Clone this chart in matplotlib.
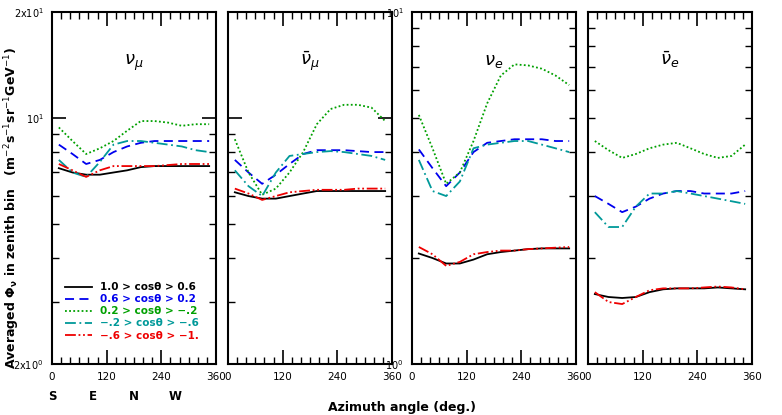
import matplotlib
matplotlib.use("Agg")
import matplotlib.pyplot as plt
from matplotlib.ticker import FixedLocator, NullFormatter

azimuth = [15, 45, 75, 105, 135, 165, 195, 225, 255, 285, 315, 345]
bin_labels = ["1.0 > cos\u03b8 > 0.6", "0.6 > cos\u03b8 > 0.2", "0.2 > cos\u03b8 > \u2212.2",
              "\u2212.2 > cos\u03b8 > \u2212.6", "\u2212.6 > cos\u03b8 > \u22121."]
panel_titles = [r"$\nu_\mu$", r"$\bar{\nu}_\mu$", r"$\nu_e$", r"$\bar{\nu}_e$"]

numu = [
    [7.2, 7.0, 6.9, 6.9, 7.0, 7.1, 7.25, 7.3, 7.3, 7.3, 7.3, 7.3],
    [8.4, 7.9, 7.4, 7.6, 8.0, 8.3, 8.5, 8.6, 8.6, 8.6, 8.6, 8.6],
    [9.4, 8.6, 7.9, 8.2, 8.6, 9.2, 9.8, 9.8, 9.7, 9.5, 9.6, 9.6],
    [7.6, 7.0, 6.8, 7.5, 8.4, 8.6, 8.6, 8.5, 8.4, 8.3, 8.1, 8.0],
    [7.4, 7.1, 6.8, 7.1, 7.3, 7.3, 7.3, 7.3, 7.35, 7.4, 7.4, 7.4],
]
numubar = [
    [6.15, 6.0, 5.9, 5.9, 6.0, 6.1, 6.2, 6.2, 6.2, 6.2, 6.2, 6.2],
    [7.6, 7.0, 6.5, 6.9, 7.4, 7.9, 8.1, 8.1, 8.1, 8.05, 8.0, 8.0],
    [8.7, 7.0, 6.05, 6.3, 7.0, 8.0, 9.6, 10.6, 10.9, 10.9, 10.7, 9.8],
    [7.1, 6.4, 6.0, 7.0, 7.8, 7.9, 8.0, 8.05, 8.0, 7.9, 7.8, 7.6],
    [6.3, 6.1, 5.85, 6.0, 6.15, 6.2, 6.25, 6.25, 6.25, 6.3, 6.3, 6.3],
]
nue = [
    [2.06, 2.0, 1.93, 1.93, 1.98, 2.05, 2.08, 2.1, 2.12, 2.13, 2.13, 2.13],
    [4.07, 3.6, 3.2, 3.5, 4.0, 4.25, 4.3, 4.35, 4.35, 4.35, 4.3, 4.3],
    [5.1, 4.1, 3.25, 3.5, 4.3, 5.5, 6.6, 7.1, 7.05, 6.9, 6.6, 6.2],
    [3.8, 3.1, 3.0, 3.3, 4.1, 4.2, 4.25, 4.3, 4.3, 4.2, 4.1, 4.0],
    [2.15, 2.05, 1.9, 1.95, 2.05, 2.08, 2.1, 2.1, 2.12, 2.13, 2.14, 2.15],
]
nuebar = [
    [1.58, 1.55, 1.54, 1.55, 1.6, 1.63, 1.64, 1.64, 1.64, 1.65, 1.64, 1.63],
    [3.0, 2.85, 2.7, 2.8, 2.95, 3.05, 3.1, 3.1, 3.05, 3.05, 3.05, 3.1],
    [4.3, 4.05, 3.85, 3.95, 4.1, 4.2, 4.25, 4.1, 3.95, 3.85, 3.9, 4.2],
    [2.7, 2.45, 2.45, 2.8, 3.05, 3.05, 3.1, 3.05, 3.0, 2.95, 2.9, 2.85],
    [1.6, 1.5, 1.48, 1.55, 1.62, 1.64, 1.64, 1.64, 1.65, 1.66, 1.65, 1.63],
]
panels = [numu, numubar, nue, nuebar]

colors = ["black", "#0000ee", "#00a000", "#009999", "#ee0000"]
styles = ["-", (0, (5, 3)), (0, (1, 1.3)), (0, (6, 2, 1, 2)), (0, (6, 1.5, 1, 1.5, 1, 1.5))]

fig = plt.figure(figsize=(7.82, 4.15), dpi=100)
lefts = [52, 228, 412, 588]
W, H = 782, 415
for i, data in enumerate(panels):
    ax = fig.add_axes([lefts[i] / W, 51 / H, 164 / W, 352 / H])
    for k, s in enumerate(data):
        ax.plot(azimuth, s, color=colors[k], ls=styles[k], lw=1.3, label=bin_labels[k])
    ax.set_yscale("log")
    ax.set_xlim(0, 360)
    if i < 2:
        ax.set_ylim(2, 20)
        ax.yaxis.set_major_locator(FixedLocator([2, 10, 20]))
        ax.yaxis.set_minor_locator(FixedLocator([3, 4, 5, 6, 7, 8, 9]))
        labs = ["2x10$^0$", "10$^1$", "2x10$^1$"]
    else:
        ax.set_ylim(1, 10)
        ax.yaxis.set_major_locator(FixedLocator([1, 10]))
        ax.yaxis.set_minor_locator(FixedLocator([2, 3, 4, 5, 6, 7, 8, 9]))
        labs = ["10$^0$", "10$^1$"]
    ax.yaxis.set_minor_formatter(NullFormatter())
    if i in (0, 2):
        ax.set_yticklabels(labs, fontsize=7)
    else:
        ax.set_yticklabels([])
    ax.xaxis.set_major_locator(FixedLocator([0, 120, 240, 360]))
    ax.xaxis.set_minor_locator(FixedLocator(list(range(20, 360, 20))))
    ax.set_xticklabels(["0", "120", "240", "360"], fontsize=7.5)
    ax.tick_params(which="both", direction="in", top=True, right=True)
    ax.tick_params(which="major", length=10, width=1.2, pad=6)
    ax.tick_params(which="minor", length=5, width=1)
    for sp in ax.spines.values():
        sp.set_linewidth(1.5)
    ax.text(0.5, 0.85, panel_titles[i], transform=ax.transAxes, fontsize=13, ha="center")
    if i == 0:
        leg = ax.legend(loc="lower left", bbox_to_anchor=(0.02, 0.04), frameon=False,
                        handlelength=2.6, labelspacing=0.2, handletextpad=0.8,
                        prop={"weight": "bold", "size": 7.5})
        for t, c in zip(leg.get_texts(), colors):
            t.set_color(c)
        for x, d in zip([0, 90, 180, 270], ["S", "E", "N", "W"]):
            ax.text(x, -0.075, d, transform=ax.get_xaxis_transform(), ha="center",
                    va="top", fontsize=8.5, fontweight="bold")

fig.text(402 / W, 8 / H, "Azimuth angle (deg.)", ha="center", va="center",
         fontsize=9, fontweight="bold")
fig.text(12 / W, 207 / H,
         r"Averaged $\mathbf{\Phi_\nu}$ in zenith bin   (m$^{-2}$s$^{-1}$sr$^{-1}$GeV$^{-1}$)",
         rotation=90, ha="center", va="center", fontsize=9, fontweight="bold")
fig.savefig("out.png", dpi=100)
